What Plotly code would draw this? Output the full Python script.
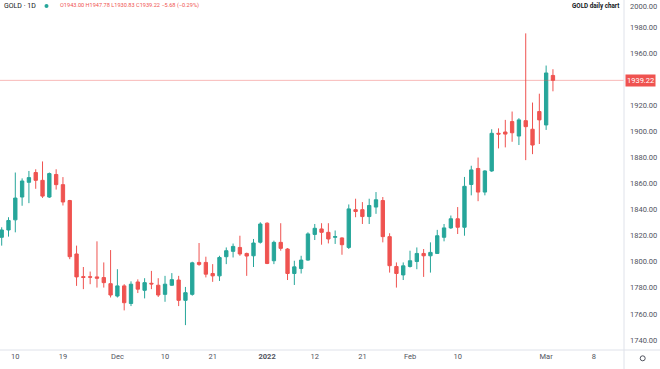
import plotly.graph_objects as go

# ---- data ----
bar_index = list(range(82))  # trading days 2021-11-08 .. 2022-03-02
opens = [1818.8,1824.4,1832.2,1849.7,1861.0,1868.5,1862.5,1849.7,1867.0,1859.2,
         1847.0,1806.0,1788.6,1788.5,1788.4,1787.9,1783.2,1773.7,1781.5,1768.0,
         1784.5,1778.1,1783.5,1782.0,1775.0,1782.0,1786.0,1770.4,1775.0,1799.5,
         1799.5,1791.0,1789.2,1803.9,1808.0,1811.0,1806.4,1804.6,1815.0,1829.6,
         1800.8,1814.9,1809.8,1791.0,1794.8,1801.3,1821.0,1825.2,1822.6,1818.8,
         1818.3,1811.0,1840.0,1840.0,1834.7,1842.0,1847.0,1819.3,1796.4,1789.9,
         1796.4,1800.2,1806.4,1804.6,1806.4,1818.8,1826.0,1833.0,1826.5,1859.3,
         1871.6,1853.5,1869.7,1898.6,1899.6,1907.6,1896.5,1908.3,1901.7,1915.3,
         1905.0,1943.0]
highs = [1826.5,1834.2,1868.5,1864.0,1869.7,1871.0,1877.0,1868.5,1871.0,1865.0,
         1847.5,1812.4,1796.0,1792.5,1815.7,1799.5,1809.0,1794.3,1782.8,1785.0,
         1786.5,1787.4,1793.0,1787.4,1789.2,1791.3,1789.2,1780.7,1800.0,1814.4,
         1803.9,1798.2,1804.6,1811.0,1814.0,1820.0,1807.0,1817.5,1830.3,1830.3,
         1816.2,1829.6,1810.5,1800.8,1804.6,1822.6,1829.0,1829.6,1829.6,1824.0,
         1818.8,1844.0,1848.4,1845.8,1848.4,1853.5,1849.7,1821.9,1799.5,1799.5,
         1808.5,1811.0,1809.8,1814.9,1824.5,1829.0,1835.5,1842.0,1865.1,1873.7,
         1880.0,1870.3,1901.7,1902.4,1908.9,1915.3,1910.2,1975.3,1922.2,1929.0,
         1950.6,1947.78]
lows = [1812.4,1819.3,1822.6,1843.0,1845.0,1856.0,1849.0,1849.0,1855.4,1843.2,
        1802.0,1781.5,1779.0,1782.8,1780.2,1780.2,1772.6,1772.6,1762.7,1766.0,
        1776.0,1771.9,1779.0,1773.0,1769.3,1781.5,1766.0,1751.4,1774.0,1796.9,
        1788.0,1784.6,1785.3,1798.2,1803.3,1804.6,1789.2,1796.0,1814.0,1798.2,
        1798.2,1808.5,1786.0,1782.2,1791.0,1800.8,1816.7,1813.1,1814.1,1813.7,
        1805.4,1809.8,1834.2,1829.0,1829.0,1836.8,1814.9,1791.7,1780.2,1786.0,
        1795.6,1794.3,1788.4,1791.7,1806.0,1815.7,1825.2,1821.3,1820.0,1851.0,
        1846.5,1851.0,1869.0,1887.0,1887.8,1892.1,1889.6,1878.0,1882.6,1890.4,
        1901.2,1930.83]
closes = [1824.4,1831.7,1848.9,1862.0,1864.6,1862.5,1850.4,1867.7,1859.2,1845.9,
          1803.9,1788.4,1788.0,1788.2,1787.4,1784.0,1774.5,1781.5,1768.6,1782.8,
          1779.0,1784.0,1783.0,1774.5,1782.8,1786.3,1770.4,1776.3,1799.2,1798.0,
          1790.5,1789.2,1803.3,1808.5,1811.8,1806.0,1804.4,1814.4,1829.0,1798.7,
          1814.9,1810.3,1791.0,1796.1,1801.3,1821.4,1825.7,1822.6,1817.5,1819.3,
          1813.1,1840.6,1838.6,1834.7,1843.2,1847.6,1819.3,1797.0,1791.0,1796.9,
          1800.8,1806.4,1804.6,1807.2,1820.0,1826.0,1833.0,1826.5,1857.9,1870.5,
          1853.5,1869.7,1898.6,1898.0,1898.0,1899.0,1908.9,1903.7,1889.6,1908.9,
          1944.9,1939.22]

x_tick_pos = [2, 9, 17, 24, 31, 39, 46, 53, 60, 67, 80, 87]
x_tick_text = ["10", "19", "Dec", "10", "21", "<b>2022</b>", "12", "21", "Feb", "10", "Mar", "8"]
y_tick_vals = [1740, 1760, 1780, 1800, 1820, 1840, 1860, 1880, 1900, 1920, 1960, 1980]
y_tick_text = [f"{v:.2f}" for v in y_tick_vals]
top_tick = 2000
last_price = 1939.22

UP = "#26a69a"
DOWN = "#ef5350"
FONT = "Roboto"
AXIS_LINE = "#dfe2ea"
TICK_COLOR = "#50535e"

W, H = 660, 369
ML, MR, MT, MB = 0, 36, 0, 19
PW, PH = W - ML - MR, H - MT - MB

def px(x):
    return (x - ML) / PW

def py(y):
    return 1 - (y - MT) / PH

fig = go.Figure()
fig.add_trace(go.Candlestick(
    x=bar_index, open=opens, high=highs, low=lows, close=closes,
    increasing=dict(line=dict(color=UP, width=1), fillcolor=UP),
    decreasing=dict(line=dict(color=DOWN, width=1), fillcolor=DOWN),
    whiskerwidth=0, showlegend=False,
))

fig.update_layout(
    width=W, height=H,
    margin=dict(l=ML, r=MR, t=MT, b=MB),
    paper_bgcolor="white", plot_bgcolor="white",
    font=dict(family=FONT, size=7.5, color=TICK_COLOR),
    xaxis=dict(range=[-0.25, 91.44], rangeslider=dict(visible=False),
               tickmode="array", tickvals=x_tick_pos, ticktext=x_tick_text,
               showgrid=False, zeroline=False, showline=False,
               ticks="", tickfont=dict(size=7.5, color=TICK_COLOR)),
    yaxis=dict(range=[1732.3, 2000.9], side="right", tickmode="array",
               tickvals=y_tick_vals, ticktext=y_tick_text,
               showgrid=False, zeroline=False, showline=False,
               ticks="", ticklabelstandoff=5,
               tickfont=dict(size=7.5, color=TICK_COLOR)),
)

# last price line
fig.add_shape(type="line", xref="paper", yref="y", x0=0, x1=1, y0=last_price, y1=last_price,
              line=dict(color="rgba(239,83,80,0.4)", width=1))

# frame lines (price scale separator and time scale separator)
fig.add_shape(type="line", xref="paper", yref="paper", x0=1, x1=1, y0=py(H), y1=py(0),
              line=dict(color=AXIS_LINE, width=1))
fig.add_shape(type="line", xref="paper", yref="paper", x0=0, x1=px(W), y0=0, y1=0,
              line=dict(color=AXIS_LINE, width=1))

# top price label at the very top edge
fig.add_annotation(xref="paper", yref="paper", x=px(629), y=py(0.5), xanchor="left", yanchor="top",
                   text=f"{top_tick:.2f}", showarrow=False, borderpad=0,
                   font=dict(family=FONT, size=7.5, color=TICK_COLOR))

# price tag
fig.add_annotation(xref="paper", yref="y", x=px(625), y=last_price, xanchor="left", yanchor="middle",
                   text="1939.22", showarrow=False, bgcolor=DOWN, borderpad=1,
                   font=dict(family=FONT, size=7.5, color="white"))

# header
fig.add_annotation(xref="paper", yref="paper", x=px(2), y=py(6), xanchor="left", yanchor="middle",
                   text="GOLD · 1D", showarrow=False, font=dict(family=FONT, size=7, color="#131722"))
fig.add_shape(type="circle", xref="paper", yref="paper",
              x0=px(44.5), x1=px(48.5), y0=py(8), y1=py(4), line=dict(color=UP, width=0), fillcolor=UP)
fig.add_annotation(xref="paper", yref="paper", x=px(58), y=py(6), xanchor="left", yanchor="middle",
                   text="O1943.00 H1947.78 L1930.83 C1939.22 −5.68 (−0.29%)", showarrow=False,
                   font=dict(family=FONT, size=5.6, color=DOWN))

# title
fig.add_annotation(xref="paper", yref="paper", x=px(622), y=py(6), xanchor="right", yanchor="middle",
                   text="<b>GOLD daily chart</b>", showarrow=False,
                   font=dict(family=FONT, size=6.3, color="#131722"))

# settings icon bottom right
fig.add_shape(type="circle", xref="paper", yref="paper",
              x0=px(640.2), x1=px(645.2), y0=py(360.8), y1=py(355.8),
              line=dict(color=TICK_COLOR, width=1), fillcolor="white")

fig.write_html("out.html", config={"displayModeBar": False},
               post_script="document.body.style.margin='0';")
